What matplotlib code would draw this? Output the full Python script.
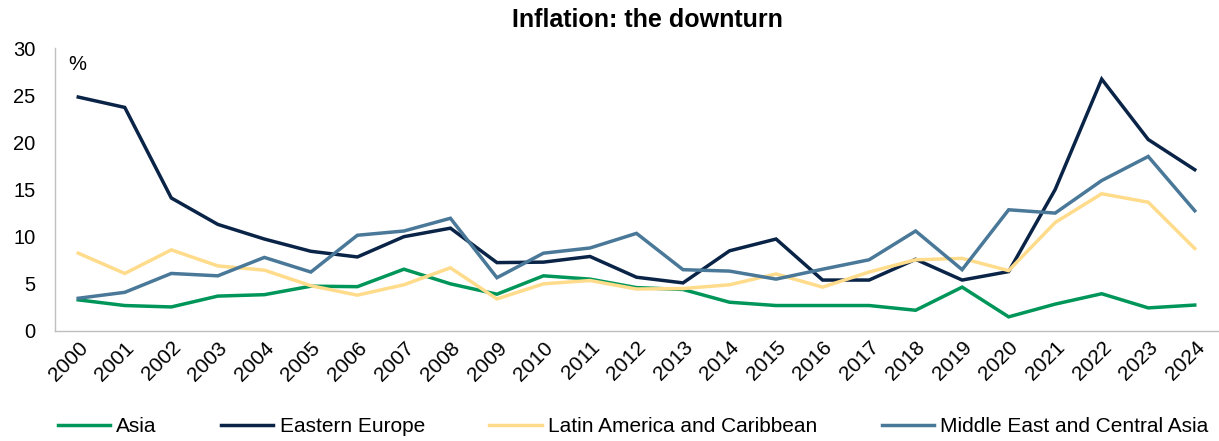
import matplotlib
matplotlib.use("Agg")
import matplotlib.pyplot as plt

plt.rcParams['font.family'] = ['Liberation Sans', 'DejaVu Sans']

years = [str(y) for y in range(2000, 2025)]

asia = [3.3, 2.7, 2.55, 3.7, 3.85, 4.75, 4.7, 6.55, 5.0, 3.9, 5.85, 5.5, 4.6,
        4.4, 3.05, 2.7, 2.7, 2.7, 2.2, 4.65, 1.5, 2.85, 3.95, 2.45, 2.75]
eastern_europe = [24.8, 23.7, 14.1, 11.3, 9.75, 8.45, 7.85, 10.0, 10.9, 7.25,
                  7.3, 7.9, 5.7, 5.1, 8.5, 9.75, 5.4, 5.4, 7.6, 5.4, 6.3, 15.0,
                  26.7, 20.3, 17.1]
latin_america = [8.25, 6.1, 8.6, 6.9, 6.45, 4.8, 3.8, 4.9, 6.7, 3.4, 5.0, 5.35,
                 4.45, 4.5, 4.9, 6.05, 4.65, 6.25, 7.55, 7.7, 6.4, 11.5, 14.55,
                 13.65, 8.75]
middle_east = [3.47, 4.1, 6.1, 5.85, 7.8, 6.25, 10.15, 10.6, 11.95, 5.65, 8.25,
               8.8, 10.35, 6.5, 6.35, 5.5, 6.55, 7.55, 10.6, 6.5, 12.85, 12.5,
               15.95, 18.5, 12.75]

series = [
    ("Asia", asia, "#00965A"),
    ("Eastern Europe", eastern_europe, "#0A2447"),
    ("Latin America and Caribbean", latin_america, "#FFDC8C"),
    ("Middle East and Central Asia", middle_east, "#4A7898"),
]

fig = plt.figure(figsize=(12.19, 4.41), dpi=100)
ax = fig.add_axes([55 / 1219, 1 - 331 / 441, (1218 - 55) / 1219, (331 - 48) / 441])

x = list(range(len(years)))
for name, vals, col in series:
    ax.plot(x, vals, color=col, lw=2.5, label=name, solid_joinstyle='miter')

ax.set_xlim(-0.5, len(years) - 0.5)
ax.set_ylim(0, 30)
ax.set_yticks([0, 5, 10, 15, 20, 25, 30])
ax.set_xticks(x)
ax.set_xticklabels(years, rotation=45, ha='right', rotation_mode='anchor')
ax.tick_params(axis='both', length=0, colors='#000000')
ax.tick_params(axis='y', pad=14, labelsize=14.5)
ax.tick_params(axis='x', pad=5, labelsize=15)

for s in ['top', 'right']:
    ax.spines[s].set_visible(False)
for s in ['left', 'bottom']:
    ax.spines[s].set_color('#BFBFBF')
    ax.spines[s].set_linewidth(1.0)

ax.text(0.011, 0.975, "%", transform=ax.transAxes, fontsize=14.5, va='top', ha='left')

fig.text(647 / 1219, 1 - 20 / 441, "Inflation: the downturn", fontsize=18,
         fontweight='bold', ha='center', va='center')

fig.legend(loc='center', bbox_to_anchor=(633 / 1219, 1 - 427 / 441), ncol=4,
           frameon=False, fontsize=15, handlelength=2.5, handletextpad=0.3,
           columnspacing=3.1, borderpad=0)

fig.savefig("out.png", dpi=100)
